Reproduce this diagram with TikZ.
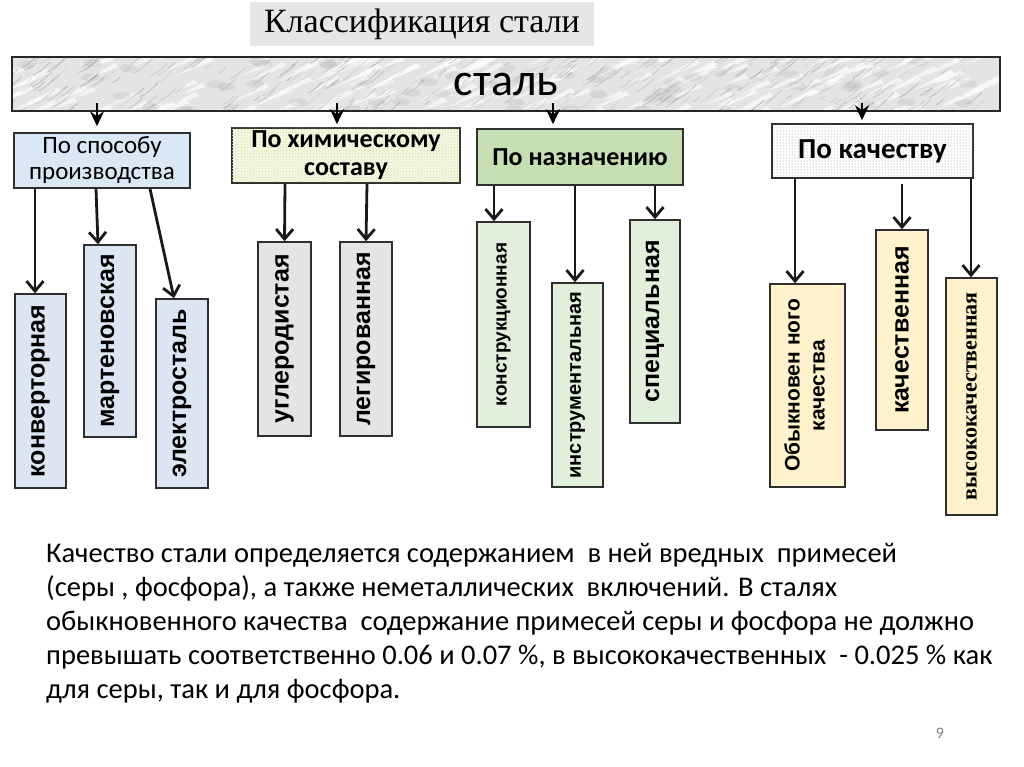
\documentclass[tikz,border=0pt]{standalone}
\usepackage{fontspec}
\setmainfont{Carlito}
\newfontfamily\arialf{Liberation Sans}
\newfontfamily\timesf{Liberation Serif}
\usetikzlibrary{arrows.meta,patterns,calc}
\definecolor{hblue}{HTML}{DAE8F6}
\definecolor{cblue}{HTML}{DCE6F2}
\definecolor{hgreen}{HTML}{C6E0B4}
\definecolor{cgreen}{HTML}{E2EFDA}
\definecolor{cgray}{HTML}{E4E4E4}
\definecolor{cyellow}{HTML}{FFF2CC}
\definecolor{tgray}{HTML}{E6E6E6}
\definecolor{edgec}{HTML}{2F2F2F}
\definecolor{hyel}{HTML}{F6F9E4}
\definecolor{hyeldot}{HTML}{C9DCA2}
\definecolor{marblebg}{HTML}{E4E4E4}
\definecolor{marblest}{HTML}{8C8C8C}
\tikzset{
  hdr/.style={draw=edgec, line width=1.5pt, inner sep=0pt, align=center},
  child/.style={draw=edgec, line width=1.5pt, inner sep=0pt, align=center},
  cfont/.style={font=\arialf\bfseries\fontsize{#1}{#1}\selectfont},
  arr/.style={line width=2.8pt, draw=black!90,
    -{Straight Barb[length=10pt,width=17pt,line width=2.8pt]}},
  sarr/.style={line width=2pt, draw=black,
    -{Stealth[length=15pt,width=14pt,inset=5pt]}},
}
\begin{document}
\begin{tikzpicture}[x=1pt,y=-1pt]
\useasboundingbox[fill=white] (0,0) rectangle (1024,767);
\pgfmathsetseed{12}
% title
\node[fill=tgray, minimum width=344pt, minimum height=44pt, inner sep=0pt,
  font=\timesf\fontsize{34}{34}\selectfont] (title) at (422,24) {Классификация стали};
% steel bar with marble texture (coordinates relative to node centre)
\node[draw=black!85, line width=2pt, fill=marblebg, minimum width=988pt, minimum height=54pt,
  inner sep=0pt, font=\fontsize{46}{46}\selectfont,
  path picture={
    \foreach \i in {1,...,220}{
      \pgfmathsetmacro\xx{rnd*1030-515}
      \pgfmathsetmacro\yy{rnd*80-35}
      \pgfmathsetmacro\ll{14+rnd*34}
      \fill[white, opacity=0.6] (\xx,\yy) -- ++(\ll,-0.55*\ll) -- ++(4,4) -- cycle;
    }
    \foreach \i in {1,...,90}{
      \pgfmathsetmacro\xx{rnd*1030-515}
      \pgfmathsetmacro\yy{rnd*80-35}
      \fill[gray, opacity=0.12] (\xx,\yy) ellipse [x radius=9pt, y radius=4pt];
    }
    \foreach \i in {1,...,480}{
      \pgfmathsetmacro\xx{rnd*1030-515}
      \pgfmathsetmacro\yy{rnd*80-35}
      \pgfmathsetmacro\ll{4+rnd*16}
      \pgfmathsetmacro\op{0.12+0.4*rnd}
      \draw[marblest, line width=0.7pt, opacity=\op] (\xx,\yy) .. controls +(0.4*\ll,-0.2*\ll) .. ++(\ll,-0.75*\ll);
    }
  }] (bar) at (506,84) {сталь};
% header boxes
\node[hdr, fill=hblue, minimum width=176pt, minimum height=55pt,
  font=\fontsize{25}{26}\selectfont] (h1) at (102,160.5) {По способу\\производства};
\node[hdr, fill=hyel, postaction={pattern=crosshatch dots, pattern color=hyeldot},
  minimum width=228pt, minimum height=55pt,
  font=\bfseries\fontsize{26}{28}\selectfont] (h2) at (346,155.5) {По химическому\\составу};
\node[hdr, fill=hgreen, minimum width=206pt, minimum height=56pt,
  font=\bfseries\fontsize{26}{28}\selectfont] (h3) at (580,157) {По назначению};
\node[hdr, fill=white, postaction={pattern=dots, pattern color=black!45},
  minimum width=201pt, minimum height=54pt,
  font=\bfseries\fontsize{29}{30}\selectfont] (h4) at (872.5,151) {По качеству};
% child boxes
\node[child, fill=cblue, minimum width=51pt, minimum height=194pt, cfont=25] (c1) at (40.5,391) {\rotatebox{90}{конверторная}};
\node[child, fill=cblue, minimum width=52pt, minimum height=192pt, cfont=25] (c2) at (110,341) {\rotatebox{90}{мартеновская}};
\node[child, fill=cblue, minimum width=52pt, minimum height=189pt, cfont=25] (c3) at (182,393.5) {\rotatebox{90}{электросталь}};
\node[child, fill=cgray, minimum width=53pt, minimum height=194pt, cfont=25] (c4) at (284.5,339) {\rotatebox{90}{углеродистая}};
\node[child, fill=cgray, minimum width=52pt, minimum height=194pt, cfont=25] (c5) at (366,339) {\rotatebox{90}{легированная}};
\node[child, fill=cgreen, minimum width=53pt, minimum height=205pt, cfont=19] (c6) at (503.5,324.5) {\rotatebox{90}{конструкционная}};
\node[child, fill=cgreen, minimum width=51pt, minimum height=204pt, cfont=20] (c7) at (577.5,385) {\rotatebox{90}{инструментальная}};
\node[child, fill=cgreen, minimum width=50pt, minimum height=203pt, cfont=25] (c8) at (655,321.5) {\rotatebox{90}{специальная}};
\node[child, fill=cyellow, minimum width=75pt, minimum height=203pt, cfont=21] (c9) at (807.5,385.5)
  {\rotatebox{90}{\begin{tabular}{@{}c@{}}Обыкновен ного\\[4pt]качества\end{tabular}}};
\node[child, fill=cyellow, minimum width=52pt, minimum height=200pt, cfont=25] (c10) at (902,330) {\rotatebox{90}{качественная}};
\node[child, fill=cyellow, minimum width=51pt, minimum height=237pt,
  font=\timesf\bfseries\fontsize{22}{22}\selectfont] (c11) at (971.5,396.5) {\rotatebox{90}{высококачественная}};
% arrows from bar
\draw[sarr] ($(h1.north)+(-5,-29)$) -- ($(h1.north)+(-5,-6)$);
\draw[sarr] ($(h2.north)+(-9,-24)$) -- ($(h2.north)+(-9,-3)$);
\draw[sarr] ($(h3.north)+(-27,-25)$) -- ($(h3.north)+(-27,-4)$);
\draw[sarr] ($(h4.north)+(-10.5,-20)$) -- ($(h4.north)+(-10.5,-3)$);
% arrows to children
\draw[arr] ($(h1.south)+(-67,0)$) -- ($(c1.north)+(-5.5,0)$);
\draw[arr] ($(h1.south)+(-6,0)$) -- ($(c2.north)+(-12,0)$);
\draw[arr] ($(h1.south)+(48,0)$) -- ($(c3.north)+(-8,0)$);
\draw[arr] ($(h2.south)+(-61,0)$) -- (c4.north);
\draw[arr] ($(h2.south)+(21,0)$) -- (c5.north);
\draw[arr] ($(h3.south)+(-86,0)$) -- ($(c6.north)+(-9.5,0)$);
\draw[arr] ($(h3.south)+(-5,0)$) -- ($(c7.north)+(-2.5,0)$);
\draw[arr] ($(h3.south)+(75,0)$) -- (c8.north);
\draw[arr] ($(h4.south)+(-77.5,0)$) -- ($(c9.north)+(-12.5,0)$);
\draw[arr] ($(h4.south)+(29.5,5)$) -- (c10.north);
\draw[arr] ($(h4.south)+(98.5,0)$) -- ($(c11.north)+(-0.5,0)$);
% paragraph
\begin{scope}[every node/.style={anchor=base west, inner sep=0pt, font=\fontsize{28.5}{28.5}\selectfont}]
\node (p1) at (46,562) {Качество стали определяется содержанием\ \ в ней вредных\ \ примесей};
\node (p2) at (46,596) {(серы , фосфора), а также неметаллических\ \ включений. В сталях};
\node (p3) at (46,630) {обыкновенного качества\ \ содержание примесей серы и фосфора не должно};
\node (p4) at (46,664) {превышать соответственно 0.06 и 0.07 \%, в высококачественных\ \ - 0.025 \% как};
\node (p5) at (46,698) {для серы, так и для фосфора.};
\end{scope}
\node[font=\fontsize{16}{16}\selectfont, text=black!50, inner sep=0pt] (pg) at (940,733) {9};
\end{tikzpicture}
\end{document}
